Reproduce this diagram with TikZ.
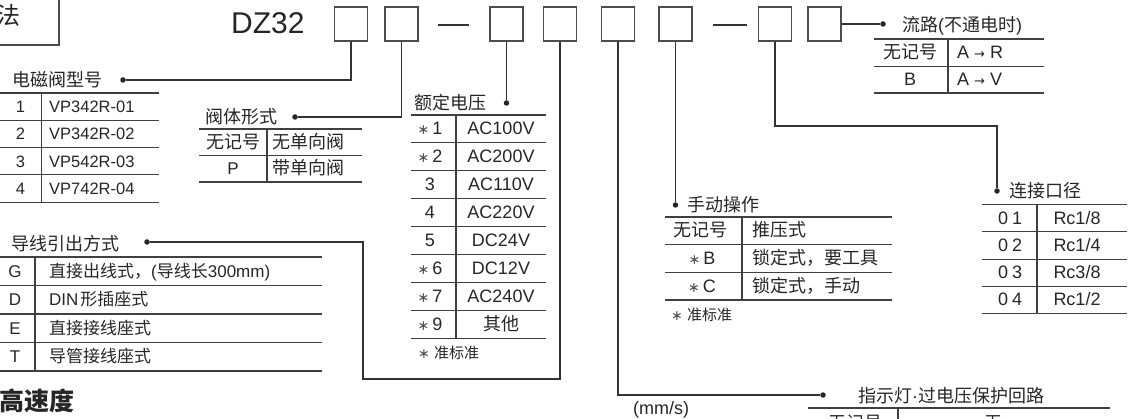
\documentclass[tikz,border=0pt]{standalone}
\usepackage{fontspec}
\setmainfont{Liberation Sans}
\newfontfamily\cjkf{Noto Sans CJK SC}
\newfontfamily\djv{DejaVu Sans}
\newcommand\cj[1]{{\cjkf #1}}
\newcommand\fs[1]{\fontsize{#1}{#1}\selectfont}
\newcommand\stm{{\djv\fs{14}\color{black!70}∗}}
\newcommand\arr{{\djv\fs{13}→}}
\begin{document}
\begin{tikzpicture}[x=1pt,y=-1pt,
  ln/.style={line width=1.1pt, draw=black!80},
  tl/.style={line width=1.1pt, draw=black!75},
  bx/.style={draw=black!70, line width=1.2pt, minimum width=33pt, minimum height=34pt, inner sep=0pt},
  dot/.style={circle, fill=black!85, minimum size=5.5pt, inner sep=0pt},
  cell/.style={inner sep=0pt, text=black!85, font=\fs{17}, text height=12pt, text depth=0pt},
  cellw/.style={cell, anchor=west},
  lbl/.style={cell, anchor=west, font=\fs{18}\cjkf, text height=13pt},
  foot/.style={cell, anchor=west, font=\fs{15}, text height=10.5pt}]
\useasboundingbox (0,0) rectangle (1130,419);
\begin{scope}
\clip (0,0) rectangle (1130,419);

% top-left box
\node[draw=black!70, line width=1.2pt, minimum width=70pt, minimum height=56pt, inner sep=0pt] (fabox) at (24,17) {};
\node[cell, font=\fs{24}\cjkf, text height=17pt] (fa) at (8,16) {法};

% model code
\node[inner sep=0pt, anchor=base west, font=\fs{30}, text=black!85] (dz) at (231,34) {DZ32};
\node[bx] (b1) at (351,24) {};
\node[bx] (b2) at (401.5,24) {};
\node[bx] (b3) at (506.5,24) {};
\node[bx] (b4) at (560,24) {};
\node[bx] (b5) at (618,24) {};
\node[bx] (b6) at (675.5,24) {};
\node[bx] (b7) at (775,24) {};
\node[bx] (b8) at (824.5,24) {};
\draw[ln] (438,25) -- (469,25);
\draw[ln] (713,25) -- (747,25);

% dots
\node[dot] (d1) at (123,80) {};
\node[dot] (d2) at (295,117) {};
\node[dot] (d3) at (506.5,103) {};
\node[dot] (d4) at (147,242) {};
\node[dot] (d5) at (823,395) {};
\node[dot] (d6) at (675.5,205) {};
\node[dot] (d7) at (997,191) {};
\node[dot] (d8) at (883,24) {};
\coordinate (c4) at (363,379);
\coordinate (c7) at (997,126);

% connectors
\draw[ln] (b1.south) |- (d1);
\draw[ln] (b2.south) |- (d2);
\draw[ln] (b3.south) -- (d3);
\draw[ln] (b4.south) |- (c4) |- (d4);
\draw[ln] (b5.south) |- (d5);
\draw[ln] (b6.south) -- (d6);
\draw[ln] (b7.south) |- (c7) -- (d7);
\draw[ln] (b8.east) -- (d8);

% labels
\node[lbl] (l1) at (12,80) {电磁阀型号};
\node[lbl] (l2) at (205,117) {阀体形式};
\node[lbl] (l3) at (414,103) {额定电压};
\node[lbl] (l4) at (11,244) {导线引出方式};
\node[lbl] (l5) at (687,205) {手动操作};
\node[lbl] (l6) at (1009,191) {连接口径};
\node[lbl, font=\fs{18}] (l7) at (902,25) {\cj{流路}(\cj{不通电时})};
\node[lbl, font=\fs{18}] (l8) at (858,396) {\cj{指示灯}·\cj{过电压保护回路}};

% table 1
\foreach \y in {93,120.3,147.6,174.9,202.2} \draw[tl] (-2,\y) -- (159,\y);
\draw[tl] (41.5,93) -- (41.5,202.2);
\node[cell, font=\fs{16.5}] (t1a1) at (20.5,106.6) {1};
\node[cellw, font=\fs{16.5}] (t1b1) at (49,106.6) {VP342R-01};
\node[cell, font=\fs{16.5}] (t1a2) at (20.5,134) {2};
\node[cellw, font=\fs{16.5}] (t1b2) at (49,134) {VP342R-02};
\node[cell, font=\fs{16.5}] (t1a3) at (20.5,161.3) {3};
\node[cellw, font=\fs{16.5}] (t1b3) at (49,161.3) {VP542R-03};
\node[cell, font=\fs{16.5}] (t1a4) at (20.5,188.6) {4};
\node[cellw, font=\fs{16.5}] (t1b4) at (49,188.6) {VP742R-04};

% table 2
\foreach \y in {129,155.5,182} \draw[tl] (199,\y) -- (362,\y);
\draw[tl] (267,129) -- (267,182);
\node[cell, font=\fs{18}\cjkf] (t2a1) at (233,142.2) {无记号};
\node[cellw, font=\fs{18}\cjkf] (t2b1) at (272,142.2) {无单向阀};
\node[cell] (t2a2) at (233,168.7) {P};
\node[cellw, font=\fs{18}\cjkf] (t2b2) at (272,168.7) {带单向阀};

% table 3
\foreach \k in {0,...,8} \draw[tl] (411,{115+27.9*\k}) -- (546,{115+27.9*\k});
\draw[tl] (456,115) -- (456,338.2);
\node[cell, font=\fs{18}] (t3a1) at (430,129) {\stm\,1};
\node[cell, font=\fs{18}] (t3b1) at (501,129) {AC100V};
\node[cell, font=\fs{18}] (t3a2) at (430,156.9) {\stm\,2};
\node[cell, font=\fs{18}] (t3b2) at (501,156.9) {AC200V};
\node[cell, font=\fs{18}] (t3a3) at (430,184.8) {3};
\node[cell, font=\fs{18}] (t3b3) at (501,184.8) {AC110V};
\node[cell, font=\fs{18}] (t3a4) at (430,212.7) {4};
\node[cell, font=\fs{18}] (t3b4) at (501,212.7) {AC220V};
\node[cell, font=\fs{18}] (t3a5) at (430,240.6) {5};
\node[cell, font=\fs{18}] (t3b5) at (501,240.6) {DC24V};
\node[cell, font=\fs{18}] (t3a6) at (430,268.5) {\stm\,6};
\node[cell, font=\fs{18}] (t3b6) at (501,268.5) {DC12V};
\node[cell, font=\fs{18}] (t3a7) at (430,296.4) {\stm\,7};
\node[cell, font=\fs{18}] (t3b7) at (501,296.4) {AC240V};
\node[cell, font=\fs{18}] (t3a8) at (430,324.3) {\stm\,9};
\node[cell, font=\fs{18}\cjkf] (t3b8) at (501,324.3) {其他};
\node[foot] (t3f) at (418,353) {\stm\ \cj{准标准}};

% table 4
\foreach \y in {257,285.5,314,342.5,371} \draw[tl] (-2,\y) -- (322,\y);
\draw[tl] (35,257) -- (35,371);
\node[cell] (t4a1) at (15,271.2) {G};
\node[cellw] (t4b1) at (49,271.2) {\cj{直接出线式，}(\cj{导线长}300mm)};
\node[cell] (t4a2) at (15,299.7) {D};
\node[cellw] (t4b2) at (49,299.7) {DIN\hspace{2pt}\cj{形插座式}};
\node[cell] (t4a3) at (15,328.2) {E};
\node[cellw, font=\fs{17}\cjkf] (t4b3) at (49,328.2) {直接接线座式};
\node[cell] (t4a4) at (15,356.7) {T};
\node[cellw, font=\fs{17}\cjkf] (t4b4) at (49,356.7) {导管接线座式};

% table 5
\foreach \y in {217,244.7,272.3,300} \draw[tl] (665,\y) -- (892,\y);
\draw[tl] (742,217) -- (742,300);
\node[cell, font=\fs{18}\cjkf] (t5a1) at (700,230.8) {无记号};
\node[cellw, font=\fs{18}\cjkf] (t5b1) at (752,230.8) {推压式};
\node[cell, font=\fs{18}] (t5a2) at (702,258.5) {\stm\,B};
\node[cellw, font=\fs{18}\cjkf] (t5b2) at (752,258.5) {锁定式，要工具};
\node[cell, font=\fs{18}] (t5a3) at (702,286.2) {\stm\,C};
\node[cellw, font=\fs{18}\cjkf] (t5b3) at (752,286.2) {锁定式，手动};
\node[foot] (t5f) at (671,315) {\stm\ \cj{准标准}};

% table 6
\foreach \y in {204.5,231.8,259.1,286.4,313.7} \draw[tl] (982,\y) -- (1127,\y);
\draw[tl] (1037,204.5) -- (1037,313.7);
\node[cell, font=\fs{18}] (t6a1) at (1010,218.2) {0\hspace{4pt}1};
\node[cell, font=\fs{18}] (t6b1) at (1077,218.2) {Rc1/8};
\node[cell, font=\fs{18}] (t6a2) at (1010,245.5) {0\hspace{4pt}2};
\node[cell, font=\fs{18}] (t6b2) at (1077,245.5) {Rc1/4};
\node[cell, font=\fs{18}] (t6a3) at (1010,272.8) {0\hspace{4pt}3};
\node[cell, font=\fs{18}] (t6b3) at (1077,272.8) {Rc3/8};
\node[cell, font=\fs{18}] (t6a4) at (1010,300) {0\hspace{4pt}4};
\node[cell, font=\fs{18}] (t6b4) at (1077,300) {Rc1/2};

% table 7
\foreach \y in {39,66.5,93} \draw[tl] (874,\y) -- (1044,\y);
\draw[tl] (948,39) -- (948,93);
\node[cell, font=\fs{18}\cjkf] (t7a1) at (910,52.7) {无记号};
\node[cellw, font=\fs{18}] (t7b1) at (957,52.7) {A \arr\ R};
\node[cell, font=\fs{18}] (t7a2) at (910,79.8) {B};
\node[cellw, font=\fs{18}] (t7b2) at (957,79.8) {A \arr\ V};

% table 8 (cut off at the lower edge, as in the reference)
\draw[tl] (808,408) -- (1110,408);
\draw[tl] (898,408) -- (898,425);
\node[cell, font=\fs{18}\cjkf] (t8a1) at (855,424) {无记号};
\node[cell, font=\fs{18}\cjkf] (t8b1) at (993,424) {无};

% other texts
\node[cell, font=\fs{18}] (mms) at (661,408) {(mm/s)};
\node[cellw, font=\fs{25}\cjkf\bfseries, text height=18pt] (gsd) at (-1,401) {高速度};
\end{scope}
\end{tikzpicture}
\end{document}
